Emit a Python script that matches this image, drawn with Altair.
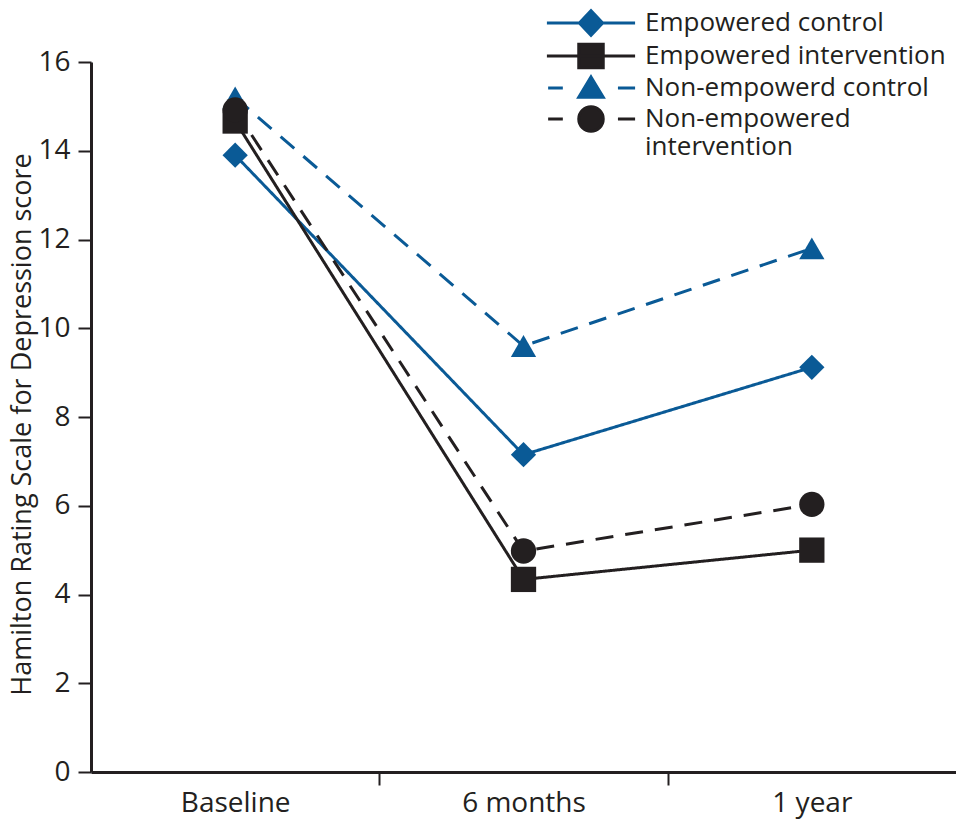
import altair as alt
import pandas as pd

# ---- data ----
times = ["Baseline", "6 months", "1 year"]
series_names = [
    "Empowered control",
    "Empowered intervention",
    "Non-empowerd control",
    "Non-empowered intervention",
]
empowered_control = [13.9, 7.15, 9.12]
empowered_intervention = [14.67, 4.34, 5.0]
nonempowered_control = [15.2, 9.6, 11.8]
nonempowered_intervention = [14.92, 4.98, 6.03]

values = [empowered_control, empowered_intervention,
          nonempowered_control, nonempowered_intervention]

rows = []
for name, vals in zip(series_names, values):
    for i, (t, v) in enumerate(zip(times, vals)):
        rows.append({"series": name, "time": t, "pos": i + 0.5, "score": v})
df = pd.DataFrame(rows)

BLUE = "#0a5a96"
DARK = "#231f20"
FONT = "Open Sans"

colors = [BLUE, DARK, BLUE, DARK]
dashes = [[1, 0], [1, 0], [18, 12], [18, 12]]
plot_shapes = ["diamond", "square", "triangle-up", "circle"]

# legend symbols: line (solid or dashed) through a marker
circle = "M1,0A1,1,0,1,1,-1,0A1,1,0,1,1,1,0Z"
legend_shapes = [
    "M-3.6,0L3.6,0M-0.95,0L0,-1L0.95,0L0,1Z",
    "M-3.6,0L3.6,0M-1,-0.95L1,-0.95L1,0.95L-1,0.95Z",
    "M-3.5,0L-2.3,0M2.2,0L3.6,0M0,-0.9L1,0.75L-1,0.75Z",
    "M-3.5,0L-2.3,0M2.2,0L3.6,0" + circle,
]

domain = series_names

label_map = " : ".join(
    [f"datum.value == {i + 0.5} ? '{t}'" for i, t in enumerate(times)]
) + " : ''"

x_enc = alt.X(
    "pos:Q",
    scale=alt.Scale(domain=[0, len(times)], nice=False, zero=False),
    axis=alt.Axis(
        title=None,
        values=[0.5, 1, 1.5, 2, 2.5],
        labelExpr=label_map,
        tickOpacity={"condition": {"test": "datum.value % 1 === 0", "value": 1}, "value": 0},
        tickSize=13,
        tickWidth=2,
        tickColor=DARK,
        labelPadding=4,
        labelFontSize=28,
        labelFont=FONT,
        labelColor=DARK,
        domainWidth=3,
        domainColor=DARK,
        grid=False,
        labelFlush=False,
        labelOverlap=False,
    ),
)

y_enc = alt.Y(
    "score:Q",
    scale=alt.Scale(domain=[0, 16], nice=False),
    axis=alt.Axis(
        title="Hamilton Rating Scale for Depression score",
        titleFontSize=27,
        titleFont=FONT,
        titleFontWeight="normal",
        titleColor=DARK,
        titlePadding=1,
        titleY=362,
        values=list(range(0, 17, 2)),
        tickSize=13,
        tickWidth=2,
        tickColor=DARK,
        labelPadding=8,
        labelFontSize=28,
        labelFont=FONT,
        labelColor=DARK,
        domainWidth=3,
        domainColor=DARK,
        grid=False,
    ),
)

lines = alt.Chart(df).mark_line(strokeWidth=3).encode(
    x=x_enc,
    y=y_enc,
    color=alt.Color("series:N", scale=alt.Scale(domain=domain, range=colors), legend=None),
    strokeDash=alt.StrokeDash("series:N", scale=alt.Scale(domain=domain, range=dashes), legend=None),
    detail="series:N",
)

points = alt.Chart(df).mark_point(filled=True, opacity=1, size=640).encode(
    x=x_enc,
    y=y_enc,
    color=alt.Color("series:N", scale=alt.Scale(domain=domain, range=colors), legend=None),
    shape=alt.Shape("series:N", scale=alt.Scale(domain=domain, range=plot_shapes), legend=None),
)

legend = alt.Legend(
    title=None,
    orient="none",
    legendX=486,
    legendY=-53,
    labelFontSize=26,
    labelFont=FONT,
    labelColor=DARK,
    labelOffset=40,
    symbolSize=600,
    symbolStrokeWidth=3,
    symbolOpacity=1,
    rowPadding=-4,
    padding=0,
    labelLimit=400,
    labelExpr="datum.label == 'Non-empowered intervention' ? ['Non-empowered', 'intervention'] : datum.label",
)

legend_layer = alt.Chart(df).mark_point(filled=True, opacity=0).encode(
    x=x_enc,
    y=y_enc,
    fill=alt.Fill("series:N", scale=alt.Scale(domain=domain, range=colors), legend=legend),
    stroke=alt.Stroke("series:N", scale=alt.Scale(domain=domain, range=colors), legend=legend),
    shape=alt.Shape("series:N", scale=alt.Scale(domain=domain, range=legend_shapes), legend=legend),
)

chart = alt.layer(lines, points, legend_layer).resolve_scale(
    color="independent", shape="independent", strokeDash="independent",
    fill="independent", stroke="independent",
).properties(
    width=865,
    height=710,
    padding={"left": 83, "top": 54, "right": 0, "bottom": 48},
    autosize=alt.AutoSizeParams(type="none"),
).configure_view(stroke=None)

chart.save("out.html", embed_options={"renderer": "svg", "actions": False})
